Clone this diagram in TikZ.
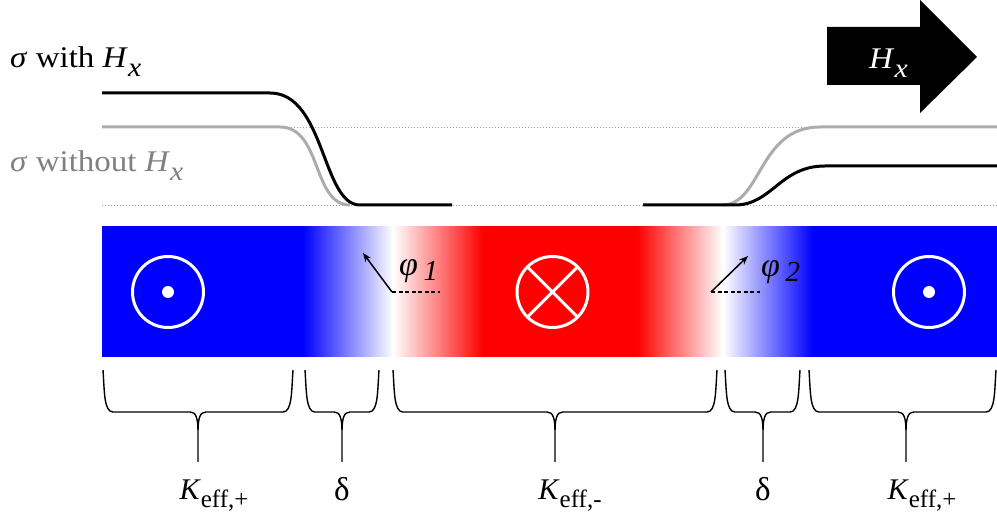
\documentclass[tikz,border=0pt]{standalone}
\usepackage{fontspec}
\setmainfont{Liberation Serif}
\newfontfamily\widefont[FakeStretch=1.1]{Liberation Serif}
\usetikzlibrary{arrows.meta}
\pgfdeclarehorizontalshading{barshade}{100bp}{rgb(0bp)=(0,0,1); rgb(25bp)=(0,0,1); rgb(36.23bp)=(0,0,1); rgb(41.26bp)=(1,1,1); rgb(46.28bp)=(1,0,0); rgb(54.89bp)=(1,0,0); rgb(59.69bp)=(1,1,1); rgb(64.72bp)=(0,0,1); rgb(75bp)=(0,0,1); rgb(100bp)=(0,0,1)}
\definecolor{curvegrey}{RGB}{172,172,172}
\definecolor{textgrey}{RGB}{128,128,128}
\definecolor{dotgrey}{RGB}{150,150,150}
\newcommand\toptxt{\widefont\fontsize{30}{34}\selectfont}
\newcommand\bottxt{\fontsize{30}{34}\selectfont}
\newcommand\subtxt[1]{\raisebox{-0.25em}{\fontsize{25}{25}\selectfont #1}}
\newcommand\topsub[1]{\raisebox{-0.3em}{\fontsize{27}{27}\selectfont #1}}
\newcommand\mybrace[4]{% x1, xm, x2, name
  \draw[bracestyle] (#1,370) .. controls (#1+1.5,392) and (#1+1,412) .. (#1+10,412)
    -- (#2-8,412) .. controls (#2-2,412) and (#2,418) .. (#2,432) -- (#2,462)
    (#3,370) .. controls (#3-1.5,392) and (#3-1,412) .. (#3-10,412)
    -- (#2+8,412) .. controls (#2+2,412) and (#2,418) .. (#2,432);
  \coordinate (#4) at (#2,462);}
\tikzset{
  bracestyle/.style={line width=1.4pt, black},
  toplbl/.style={inner sep=0pt, font=\toptxt},
  botlbl/.style={inner sep=0pt, font=\bottxt},
  philbl/.style={inner sep=0pt, font=\fontsize{34}{38}\selectfont},
  sigcurve/.style={line width=3pt, black},
  sigcurvegrey/.style={line width=3pt, curvegrey},
  guide/.style={dotgrey, line width=0.9pt, dash pattern=on 1.2pt off 1.8pt},
  ringstyle/.style={white, line width=3pt},
  phiarrow/.style={line width=1.5pt, -{Stealth[length=9pt,width=7pt]}},
  phidash/.style={line width=1.3pt, dash pattern=on 4pt off 2.5pt}
}
\begin{document}
\begin{tikzpicture}[x=1pt,y=-1pt]
\useasboundingbox (0,0) rectangle (997,518);
% dotted guides
\draw[guide] (102,127) -- (997,127);
\draw[guide] (102,205) -- (997,205);
% grey curves (without Hx)
\draw[sigcurvegrey] (102,127) -- (280,127) .. controls (322,127) and (312,205) .. (350,205);
\draw[sigcurvegrey] (722,205) .. controls (762,205) and (758,127) .. (820,127) -- (997,127);
% black curves (with Hx)
\draw[sigcurve] (102,93) -- (270,93) .. controls (325,93) and (322,205) .. (360,205) -- (452,205);
\draw[sigcurve] (643,205) -- (735,205) .. controls (772,205) and (780,166) .. (825,166) -- (997,166);
% labels top left
\node[toplbl, anchor=base west] (withHx) at (10,68) {\textit{σ} with \textit{H}\topsub{\textit{x}}};
\node[toplbl, anchor=base west, text=textgrey] (withoutHx) at (10,172) {\textit{σ} without \textit{H}\topsub{\textit{x}}};
% Hx block arrow
\fill[black] (827,27) -- (920,27) -- (920,0) -- (977,57) -- (920,113) -- (920,85) -- (827,85) -- cycle;
\node[toplbl, anchor=base west, text=white] (hxlbl) at (869,69) {\textit{H}\topsub{\textit{x}}};
% magnetic strip
\shade[shading=barshade] (102,227) rectangle (997,357);
% out-of-plane symbols
\draw[ringstyle] (168,292) circle (35.5);
\fill[white] (168,292) circle (6);
\draw[ringstyle] (929,292) circle (35.5);
\fill[white] (929,292) circle (6);
\draw[ringstyle] (552.5,292) circle (35.5);
\draw[ringstyle] (552.5,292) ++(45:35.5) -- ++(225:71);
\draw[ringstyle] (552.5,292) ++(135:35.5) -- ++(-45:71);
% phi angles
\coordinate (o1) at (392,292);
\coordinate (e1) at (440,292);
\coordinate (a1) at (363,253);
\draw[phidash] (o1) -- (e1);
\draw[phiarrow] (o1) -- (a1);
\node[philbl, anchor=base west] (phi1) at (399,276) {\textit{φ}\,\raisebox{-0.12em}{\fontsize{29}{29}\selectfont\textit{1}}};
\coordinate (o2) at (711,292);
\coordinate (e2) at (760,292);
\coordinate (a2) at (748,256);
\draw[phidash] (o2) -- (e2);
\draw[phiarrow] (o2) -- (a2);
\node[philbl, anchor=base west] (phi2) at (761,277) {\textit{φ}\,\raisebox{-0.12em}{\fontsize{29}{29}\selectfont\textit{2}}};
% braces
\mybrace{103}{198}{293}{b1}
\mybrace{305}{342}{379}{b2}
\mybrace{393}{555}{717}{b3}
\mybrace{725}{763}{800}{b4}
\mybrace{809}{906}{996}{b5}
% brace labels
\node[botlbl, anchor=base] (k1) at (214,500) {\textit{K}\subtxt{eff,+}};
\node[botlbl, anchor=base, font=\fontsize{33}{36}\selectfont] (d1) at (342,501) {δ};
\node[botlbl, anchor=base] (k2) at (570,500) {\textit{K}\subtxt{eff,-}};
\node[botlbl, anchor=base, font=\fontsize{33}{36}\selectfont] (d2) at (763,501) {δ};
\node[botlbl, anchor=base] (k3) at (922,500) {\textit{K}\subtxt{eff,+}};
\end{tikzpicture}
\end{document}
